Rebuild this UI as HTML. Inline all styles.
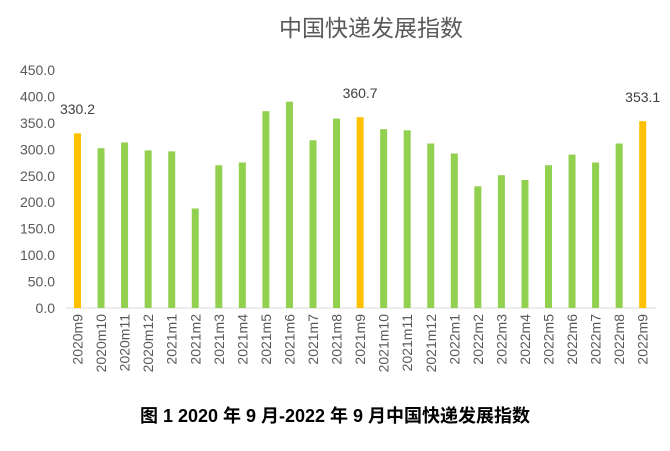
<!DOCTYPE html><html><head><meta charset="utf-8"><style>body{margin:0;background:#fff}</style></head><body>
<svg width="670" height="446" xmlns="http://www.w3.org/2000/svg" font-family="Liberation Sans, Noto Sans CJK SC, sans-serif">
<rect width="670" height="446" fill="#fff"/>
<text x="371" y="36" font-size="23" fill="#595959" text-anchor="middle">中国快递发展指数</text>
<g font-size="14" fill="#595959" text-anchor="end">
<text x="55" y="313">0.0</text><text x="55" y="286.5">50.0</text><text x="55" y="260.1">100.0</text><text x="55" y="233.7">150.0</text><text x="55" y="207.2">200.0</text><text x="55" y="180.8">250.0</text><text x="55" y="154.3">300.0</text><text x="55" y="127.9">350.0</text><text x="55" y="101.4">400.0</text><text x="55" y="75">450.0</text>
</g>
<line x1="66" y1="308" x2="656" y2="308" stroke="#d9d9d9" stroke-width="1"/>
<g fill="#92D050">
<rect x="74" y="133.3" width="7" height="174.7" fill="#FFC000"/>
<rect x="97.55" y="148.2" width="7" height="159.8"/>
<rect x="121.1" y="142.4" width="7" height="165.6"/>
<rect x="144.65" y="150.4" width="7" height="157.6"/>
<rect x="168.2" y="151.4" width="7" height="156.6"/>
<rect x="191.75" y="208.5" width="7" height="99.5"/>
<rect x="215.3" y="165.2" width="7" height="142.8"/>
<rect x="238.85" y="162.5" width="7" height="145.5"/>
<rect x="262.4" y="111.2" width="7" height="196.8"/>
<rect x="285.95" y="101.7" width="7" height="206.3"/>
<rect x="309.5" y="140.3" width="7" height="167.7"/>
<rect x="333.05" y="118.6" width="7" height="189.4"/>
<rect x="356.6" y="117.2" width="7" height="190.8" fill="#FFC000"/>
<rect x="380.15" y="129.2" width="7" height="178.8"/>
<rect x="403.7" y="130.3" width="7" height="177.7"/>
<rect x="427.25" y="143.5" width="7" height="164.5"/>
<rect x="450.8" y="153.5" width="7" height="154.5"/>
<rect x="474.35" y="186.3" width="7" height="121.7"/>
<rect x="497.9" y="175.2" width="7" height="132.8"/>
<rect x="521.45" y="180" width="7" height="128"/>
<rect x="545" y="165.2" width="7" height="142.8"/>
<rect x="568.55" y="154.6" width="7" height="153.4"/>
<rect x="592.1" y="162.5" width="7" height="145.5"/>
<rect x="615.65" y="143.5" width="7" height="164.5"/>
<rect x="639.2" y="121.2" width="7" height="186.8" fill="#FFC000"/>
</g>
<g font-size="14" fill="#404040" text-anchor="middle">
<text x="77.5" y="114">330.2</text>
<text x="360.1" y="98">360.7</text>
<text x="642.7" y="102">353.1</text>
</g>
<g font-size="14" fill="#595959" text-anchor="end">
<text transform="translate(82.5,314) rotate(-90)">2020m9</text>
<text transform="translate(106.05,314) rotate(-90)">2020m10</text>
<text transform="translate(129.6,314) rotate(-90)">2020m11</text>
<text transform="translate(153.15,314) rotate(-90)">2020m12</text>
<text transform="translate(176.7,314) rotate(-90)">2021m1</text>
<text transform="translate(200.25,314) rotate(-90)">2021m2</text>
<text transform="translate(223.8,314) rotate(-90)">2021m3</text>
<text transform="translate(247.35,314) rotate(-90)">2021m4</text>
<text transform="translate(270.9,314) rotate(-90)">2021m5</text>
<text transform="translate(294.45,314) rotate(-90)">2021m6</text>
<text transform="translate(318,314) rotate(-90)">2021m7</text>
<text transform="translate(341.55,314) rotate(-90)">2021m8</text>
<text transform="translate(365.1,314) rotate(-90)">2021m9</text>
<text transform="translate(388.65,314) rotate(-90)">2021m10</text>
<text transform="translate(412.2,314) rotate(-90)">2021m11</text>
<text transform="translate(435.75,314) rotate(-90)">2021m12</text>
<text transform="translate(459.3,314) rotate(-90)">2022m1</text>
<text transform="translate(482.85,314) rotate(-90)">2022m2</text>
<text transform="translate(506.4,314) rotate(-90)">2022m3</text>
<text transform="translate(529.95,314) rotate(-90)">2022m4</text>
<text transform="translate(553.5,314) rotate(-90)">2022m5</text>
<text transform="translate(577.05,314) rotate(-90)">2022m6</text>
<text transform="translate(600.6,314) rotate(-90)">2022m7</text>
<text transform="translate(624.15,314) rotate(-90)">2022m8</text>
<text transform="translate(647.7,314) rotate(-90)">2022m9</text>
</g>
<text x="335" y="422" font-size="18" font-weight="bold" fill="#000" text-anchor="middle">图 1 2020 年 9 月-2022 年 9 月中国快递发展指数</text>
</svg></body></html>
